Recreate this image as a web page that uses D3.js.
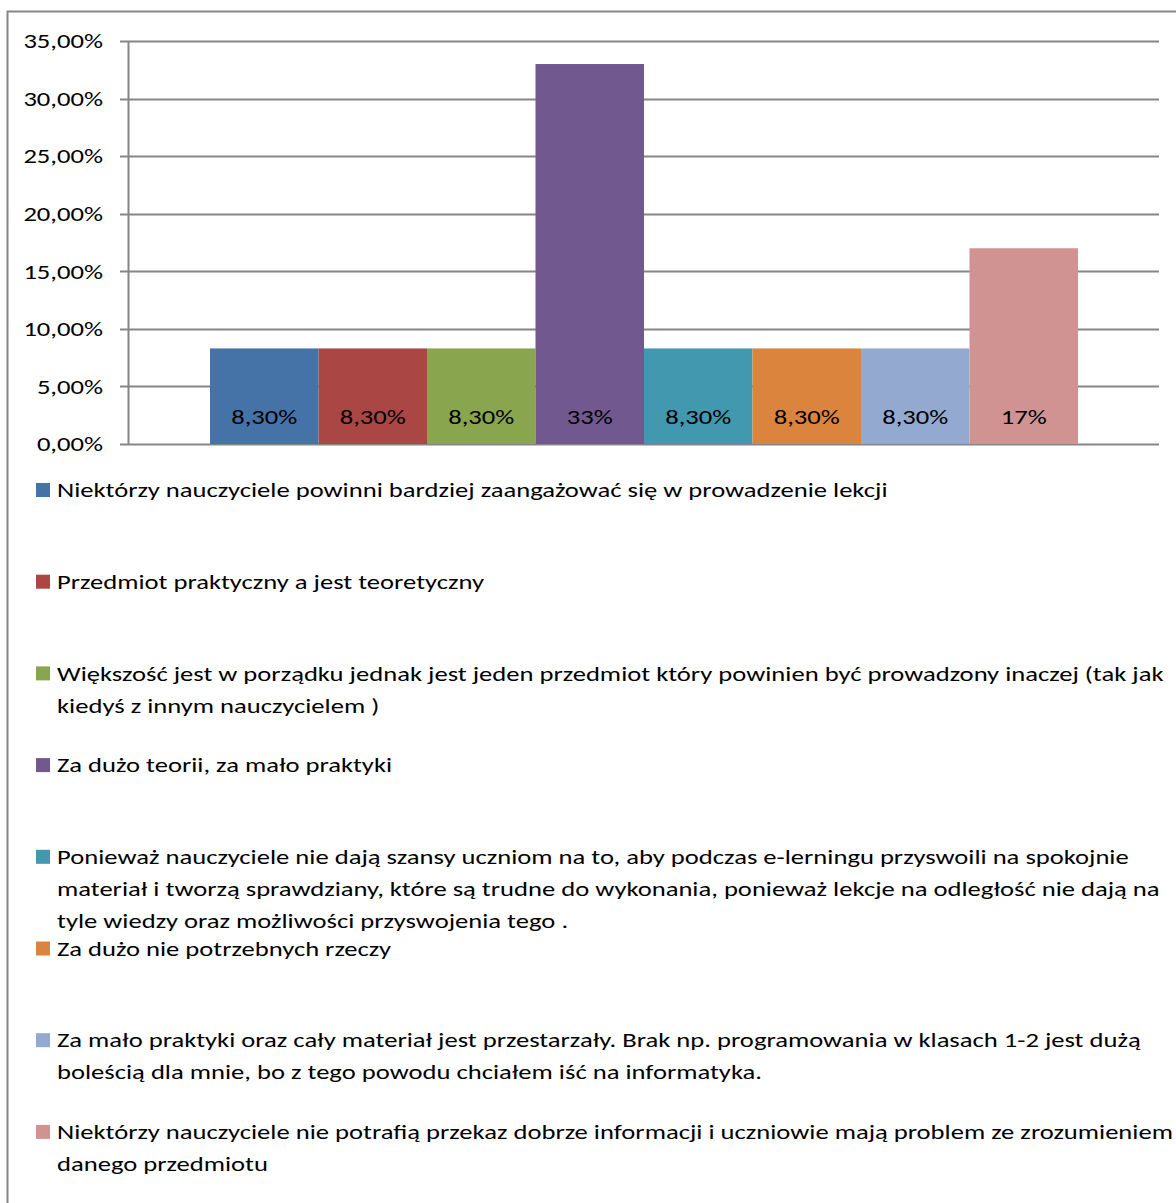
<!DOCTYPE html>
<html><head><meta charset="utf-8">
<script src="https://cdn.jsdelivr.net/npm/d3@7"></script>
<style>
html,body{margin:0;padding:0;background:#fff;overflow:hidden}
text{font-family:Carlito,Lato,"Open Sans",sans-serif}
</style></head>
<body>
<script>
const seriesNames = [
  ["Niektórzy nauczyciele powinni bardziej zaangażować się w prowadzenie lekcji"],
  ["Przedmiot praktyczny a jest teoretyczny"],
  ["Większość jest w porządku jednak jest jeden przedmiot który powinien być prowadzony inaczej (tak jak", "kiedyś z innym nauczycielem )"],
  ["Za dużo teorii, za mało praktyki"],
  ["Ponieważ nauczyciele nie dają szansy uczniom na to, aby podczas e-lerningu przyswoili na spokojnie", "materiał i tworzą sprawdziany, które są trudne do wykonania, ponieważ lekcje na odległość nie dają na", "tyle wiedzy oraz możliwości przyswojenia tego ."],
  ["Za dużo nie potrzebnych rzeczy"],
  ["Za mało praktyki oraz cały materiał jest przestarzały. Brak np. programowania w klasach 1-2 jest dużą", "boleścią dla mnie, bo z tego powodu chciałem iść na informatyka."],
  ["Niektórzy nauczyciele nie potrafią przekaz dobrze informacji i uczniowie mają problem ze zrozumieniem", "danego przedmiotu"]
];
const values = [0.083, 0.083, 0.083, 0.33, 0.083, 0.083, 0.083, 0.17];
const valueLabels = ["8,30%", "8,30%", "8,30%", "33%", "8,30%", "8,30%", "8,30%", "17%"];
const colors = ["#4572A7", "#AA4643", "#89A54E", "#71588F", "#4198AF", "#DB843D", "#93A9CF", "#D19392"];
const yTicks = [0, 0.05, 0.10, 0.15, 0.20, 0.25, 0.30, 0.35];

const W = 1176, H = 1203;
const FS = 20.8, SX = 1.28;
const svg = d3.select("body").append("svg").attr("width", W).attr("height", H);

function label(parent, x, y, txt, anchor) {
  const g = parent.append("g").attr("transform", `translate(${x},${y}) scale(${SX},1)`);
  g.append("text").attr("x", 0).attr("y", 0).attr("dy", "0.35em")
    .attr("text-anchor", anchor || "start").attr("font-size", FS).attr("fill", "#000").text(txt);
  return g;
}

// outer frame
svg.append("rect").attr("x", 7.5).attr("y", 11.5).attr("width", 1300).attr("height", 1300)
  .attr("fill", "#fff").attr("stroke", "#868686").attr("stroke-width", 2);

const plot = {left: 128, right: 1159, top: 41, bottom: 444};
const y = d3.scaleLinear().domain([0, 0.35]).range([plot.bottom, plot.top]);
const fmt = v => d3.format(".2f")(v * 100).replace(".", ",") + "%";

// gridlines
svg.append("g").selectAll("line").data(yTicks).join("line")
  .attr("x1", plot.left - 8).attr("x2", plot.right)
  .attr("y1", d => Math.round(y(d)) + 0.5).attr("y2", d => Math.round(y(d)) + 0.5)
  .attr("stroke", "#868686").attr("stroke-width", 2);

// y axis line
svg.append("line").attr("x1", plot.left + 0.5).attr("x2", plot.left + 0.5)
  .attr("y1", plot.top).attr("y2", plot.bottom + 1)
  .attr("stroke", "#868686").attr("stroke-width", 2);

// tick labels
const tg = svg.append("g");
yTicks.forEach(d => label(tg, 103, y(d), fmt(d), "end"));

// bars
const x = d3.scaleBand().domain(d3.range(values.length)).range([210, 1078]).padding(0);
svg.append("g").selectAll("rect").data(values).join("rect")
  .attr("x", (d, i) => x(i)).attr("width", x.bandwidth())
  .attr("y", d => y(d)).attr("height", d => plot.bottom - y(d))
  .attr("fill", (d, i) => colors[i]);

// value labels
const vg = svg.append("g");
valueLabels.forEach((t, i) => label(vg, x(i) + x.bandwidth() / 2, 417, t, "middle"));

// legend
const legendTop = 490, legendStep = 91.7, lineH = 32;
const lg = svg.append("g").selectAll("g").data(seriesNames).join("g")
  .attr("transform", (d, i) => `translate(0,${legendTop + i * legendStep})`);
lg.append("rect").attr("x", 36).attr("y", -7).attr("width", 14).attr("height", 14)
  .attr("fill", (d, i) => colors[i]);
lg.each(function(lines) {
  const g = d3.select(this);
  lines.forEach((t, j) => label(g, 57, j * lineH, t, "start"));
});
</script>
</body></html>
